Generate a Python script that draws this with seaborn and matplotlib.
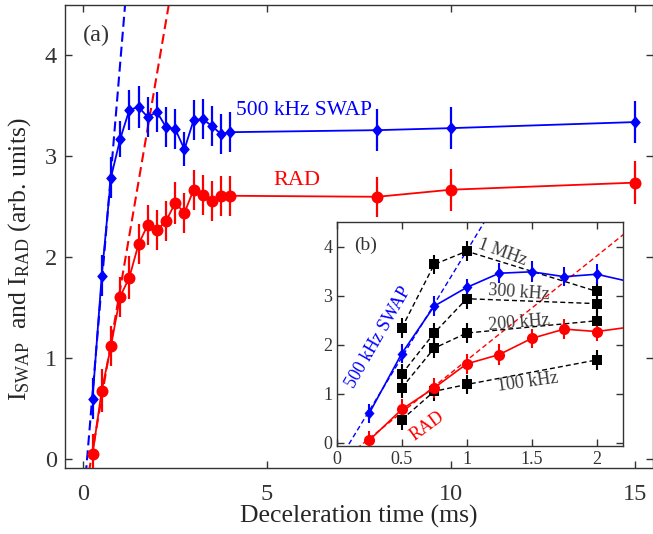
import numpy as np
import pandas as pd
import matplotlib
matplotlib.use("Agg")
import matplotlib.pyplot as plt
import seaborn as sns

# ---- data -------------------------------------------------------------
t_ms = [0.25, 0.5, 0.75, 1.0, 1.25, 1.5, 1.75, 2.0, 2.25, 2.5, 2.75,
        3.0, 3.25, 3.5, 3.75, 4.0, 8.0, 10.0, 15.0]
swap = [0.60, 1.82, 2.79, 3.17, 3.46, 3.49, 3.39, 3.44, 3.29, 3.27, 3.07,
        3.36, 3.37, 3.30, 3.22, 3.24, 3.26, 3.28, 3.34]
swap_err = [0.20, 0.20, 0.20, 0.18, 0.20, 0.21, 0.20, 0.20, 0.20, 0.20, 0.17,
            0.20, 0.20, 0.20, 0.20, 0.20, 0.21, 0.21, 0.21]
rad = [0.05, 0.68, 1.12, 1.61, 1.80, 2.13, 2.32, 2.27, 2.36, 2.54, 2.44,
       2.67, 2.62, 2.56, 2.61, 2.61, 2.60, 2.67, 2.74]
rad_err = [0.20, 0.21, 0.20, 0.20, 0.21, 0.20, 0.20, 0.20, 0.20, 0.21, 0.20,
           0.20, 0.20, 0.20, 0.20, 0.20, 0.20, 0.21, 0.21]

# initial-slope guide lines: onset time (ms) and slope (per ms)
swap_fit = (0.10, 4.35)
rad_fit = (0.21, 2.13)

# sweep-rate comparison shown in the inset
t_ctl = [0.5, 0.75, 1.0, 2.0]
ctl_labels = ["1 MHz", "300 kHz", "200 kHz", "100 kHz"]
ctl_values = {
    "1 MHz":   [2.34, 3.64, 3.91, 3.09],
    "300 kHz": [1.40, 2.24, 2.94, 2.84],
    "200 kHz": [1.12, 1.93, 2.24, 2.49],
    "100 kHz": [0.47, 1.05, 1.19, 1.69],
}
ctl_err = 0.2

# ---- style --------------------------------------------------------------
sns.set_theme(style="ticks")
plt.rcParams["font.family"] = ["Liberation Serif", "DejaVu Serif"]
plt.rcParams["mathtext.fontset"] = "custom"
plt.rcParams["mathtext.rm"] = "Liberation Serif"
plt.rcParams["mathtext.default"] = "regular"
plt.rcParams["axes.edgecolor"] = "#333333"
plt.rcParams["xtick.color"] = "#333333"
plt.rcParams["ytick.color"] = "#333333"
plt.rcParams["text.color"] = "#333333"

BLUE = "#0000ff"
RED = "#ff0000"
diamond = [(0, 1), (0.85, 0), (0, -1), (-0.85, 0), (0, 1)]

df = pd.DataFrame({"t": t_ms, "swap": swap, "rad": rad})


def draw_series(ax, ms, lw, elw):
    sns.lineplot(data=df, x="t", y="swap", ax=ax, color=BLUE, marker=diamond,
                 markersize=ms * 1.05, markeredgewidth=0, linewidth=lw,
                 estimator=None, sort=False, zorder=4)
    ax.errorbar(t_ms, swap, yerr=swap_err, fmt="none", ecolor=BLUE,
                elinewidth=elw, capsize=0, zorder=3)
    sns.lineplot(data=df, x="t", y="rad", ax=ax, color=RED, marker="o",
                 markersize=ms, markeredgewidth=0, linewidth=lw,
                 estimator=None, sort=False, zorder=4)
    ax.errorbar(t_ms, rad, yerr=rad_err, fmt="none", ecolor=RED,
                elinewidth=elw, capsize=0, zorder=3)


def draw_fits(ax, x_end, lw, dashes):
    for (t0, k), c in ((swap_fit, BLUE), (rad_fit, RED)):
        xs = np.array([t0 - 0.2, x_end])
        ax.plot(xs, k * (xs - t0), color=c, lw=lw, dashes=dashes, zorder=2)


def style_axes(ax, size, xpad, ypad):
    ax.tick_params(direction="in", top=True, right=True, length=5,
                   width=1, labelsize=size)
    ax.tick_params(axis="x", pad=xpad)
    ax.tick_params(axis="y", pad=ypad)
    for s in ax.spines.values():
        s.set_linewidth(1.0)
        s.set_visible(True)
    ax.set_xlabel("")
    ax.set_ylabel("")


fig = plt.figure(figsize=(6.53, 5.34), dpi=100)

# ---- main panel ----------------------------------------------------------
ax = fig.add_axes([65 / 653, 1 - 468.3 / 534, 588 / 653, 463.3 / 534])
draw_fits(ax, 3.0, 1.5, (4.8, 2.4))
draw_series(ax, 8.6, 1.3, 1.6)
ax.set_xlim(-0.5, 15.5)
ax.set_ylim(-0.09, 4.5)
ax.set_xticks([0, 5, 10, 15])
ax.set_yticks([0, 1, 2, 3, 4])
style_axes(ax, 17.5, 11, 6)
ax.set_xlabel("Deceleration time (ms)", fontsize=18.5)
ax.set_ylabel(r"I$_{SWAP}$  and I$_{RAD}$ (arb. units)", fontsize=18.5)
ax.xaxis.set_label_coords(0.5, -0.079)
ax.yaxis.set_label_coords(-0.054, 0.452)

ax.text(0.36, 4.2, "(a)", fontsize=17.5, ha="center", va="center")
ax.text(4.15, 3.45, "500 kHz SWAP", fontsize=15.5, color=BLUE,
        ha="left", va="center")
ax.text(5.8, 2.76, "RAD", fontsize=16, color=RED, ha="center", va="center")

# ---- inset -------------------------------------------------------------
axin = fig.add_axes([336.7 / 653, 1 - 445.7 / 534, 286 / 653, 223.4 / 534])
draw_fits(axin, 2.3, 1.0, (3.6, 2.2))
for name in ctl_labels:
    axin.plot(t_ctl, ctl_values[name], color="black", lw=1.0,
              dashes=(3.6, 2.2), zorder=2)
    axin.errorbar(t_ctl, ctl_values[name], yerr=ctl_err, fmt="s",
                  color="black", ms=6.5, mew=0, elinewidth=1.5, capsize=0,
                  zorder=3)
draw_series(axin, 8.0, 1.2, 1.5)
axin.set_xlim(0, 2.2)
axin.set_ylim(-0.06, 4.5)
axin.set_xticks([0, 0.5, 1, 1.5, 2])
axin.set_xticklabels(["0", "0.5", "1", "1.5", "2"])
axin.set_yticks([0, 1, 2, 3, 4])
style_axes(axin, 13, 4, 3)

axin.text(0.225, 4.03, "(b)", fontsize=14, ha="center", va="center")
axin.text(0.325, 2.16, "500 kHz SWAP", fontsize=13, color=BLUE,
          rotation=60, ha="center", va="center")
axin.text(0.70, 0.34, "RAD", fontsize=13, color=RED, rotation=36,
          ha="center", va="center")
gray = "#3a3a3a"
axin.text(1.275, 3.88, "1 MHz", fontsize=13, color=gray, rotation=-20,
          ha="center", va="center")
axin.text(1.40, 3.06, "300 kHz", fontsize=13, color=gray, rotation=-4,
          ha="center", va="center")
axin.text(1.40, 2.45, "200 kHz", fontsize=13, color=gray, rotation=5,
          ha="center", va="center")
axin.text(1.47, 1.24, "100 kHz", fontsize=13, color=gray, rotation=8,
          ha="center", va="center")

fig.savefig("out.png", dpi=100)
